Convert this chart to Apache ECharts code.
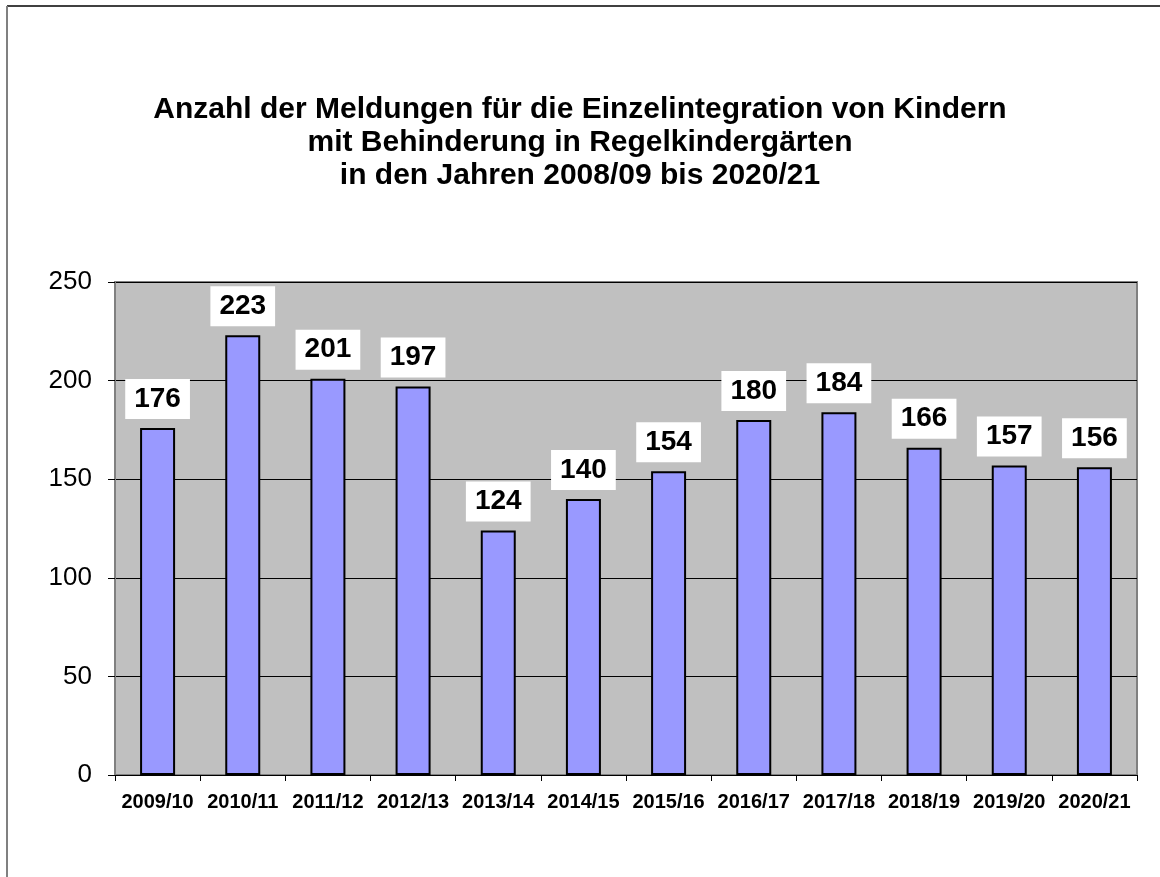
<!DOCTYPE html>
<html>
<head>
<meta charset="utf-8">
<script src="https://cdn.jsdelivr.net/npm/echarts@6/dist/echarts.min.js"></script>
<style>
  html, body { margin: 0; padding: 0; background: #fff; }
  #chart { width: 1160px; height: 877px; }
</style>
</head>
<body>
<div id="chart"></div>
<script>
const years = ["2009/10", "2010/11", "2011/12", "2012/13", "2013/14", "2014/15",
  "2015/16", "2016/17", "2017/18", "2018/19", "2019/20", "2020/21"];
const meldungen = [176, 223, 201, 197, 124, 140, 154, 180, 184, 166, 157, 156];
const titleLines = [
  "Anzahl der Meldungen für die Einzelintegration von Kindern",
  "mit Behinderung in Regelkindergärten",
  "in den Jahren 2008/09 bis 2020/21"
];

const chart = echarts.init(document.getElementById("chart"));
const font = "Liberation Sans, Arial, sans-serif";

chart.setOption({
  backgroundColor: "#fff",
  animation: false,
  textStyle: { fontFamily: font },
  title: {
    text: titleLines.join("\n"),
    left: "center",
    top: 88,
    textStyle: {
      fontSize: 30,
      fontWeight: "bold",
      color: "#000",
      lineHeight: 33,
      fontFamily: font
    }
  },
  graphic: [
    { type: "line", shape: { x1: 7, y1: 6, x2: 1160, y2: 6 }, style: { stroke: "#000", lineWidth: 1.5 } },
    { type: "line", shape: { x1: 7, y1: 6, x2: 7, y2: 877 }, style: { stroke: "#808080", lineWidth: 2 } }
  ],
  grid: {
    left: 115,
    right: 23,
    top: 282,
    bottom: 102,
    show: true,
    backgroundColor: "#c0c0c0",
    borderColor: "#808080",
    borderWidth: 2
  },
  xAxis: {
    type: "category",
    data: years,
    axisLine: { lineStyle: { color: "#000", width: 1 } },
    axisTick: { show: true, length: 6, lineStyle: { color: "#000" } },
    axisLabel: {
      interval: 0,
      margin: 17,
      fontSize: 20,
      fontWeight: "bold",
      color: "#000"
    }
  },
  yAxis: {
    type: "value",
    min: 0,
    max: 250,
    interval: 50,
    axisLine: { show: true, lineStyle: { color: "#808080", width: 2 } },
    axisTick: { show: true, length: 7, lineStyle: { color: "#000" } },
    axisLabel: { fontSize: 26, color: "#000", margin: 23 },
    splitLine: { show: true, lineStyle: { color: "#000", width: 1 } }
  },
  series: [{
    type: "bar",
    data: meldungen,
    barWidth: 35,
    itemStyle: { color: "#9999ff", borderColor: "#000", borderWidth: 2 },
    label: {
      show: true,
      position: "top",
      distance: 9,
      fontSize: 28,
      fontWeight: "bold",
      color: "#000",
      backgroundColor: "#fff",
      padding: [6, 9, 6, 9]
    }
  }]
});
</script>
</body>
</html>
